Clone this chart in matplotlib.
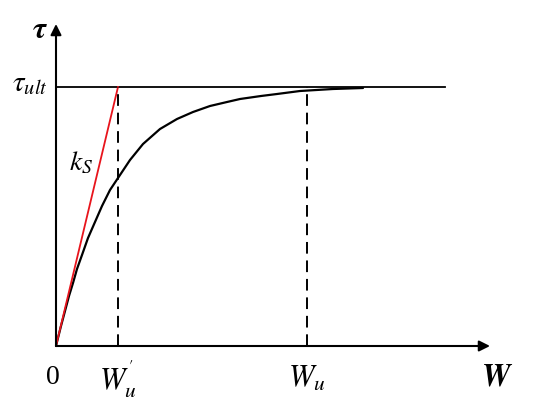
import numpy as np
import matplotlib
matplotlib.use("Agg")
import matplotlib.pyplot as plt

plt.rcParams['mathtext.fontset'] = 'stix'
plt.rcParams['font.family'] = ['Liberation Serif', 'DejaVu Serif']

# values (pixel-like units, origin at axes corner)
tau_ult = 259
w_u_prime = 62
w_u = 251
curve_w = [0, 5, 9, 13, 17, 21, 26, 32, 39, 46, 54, 64, 74, 87, 104, 121,
           137, 154, 171, 184, 205, 221, 244, 277, 307]
curve_tau = [0, 20, 35, 50, 63, 77, 91, 108, 124, 140, 156, 171, 186, 202,
             217, 227, 234, 240, 244, 247, 250, 252, 255, 257, 258]

fig = plt.figure(figsize=(5.5, 4.03), dpi=100)
ax = fig.add_axes([0, 0, 1, 1])
ax.set_xlim(-56, 494)
ax.set_ylim(-57, 346)
ax.axis('off')

# axes with arrows
ax.annotate('', xy=(0, 322), xytext=(0, 0),
            arrowprops=dict(arrowstyle='-|>', lw=1.5, color='black',
                            mutation_scale=16, shrinkA=0, shrinkB=0))
ax.annotate('', xy=(434, 0), xytext=(0, 0),
            arrowprops=dict(arrowstyle='-|>', lw=1.5, color='black',
                            mutation_scale=16, shrinkA=0, shrinkB=0))

# ultimate stress line
ax.plot([0, 389], [tau_ult, tau_ult], color='black', lw=1.3)

# curve
ax.plot(curve_w, curve_tau, color='black', lw=1.6, solid_joinstyle='round',
        solid_capstyle='round')

# initial stiffness
ax.plot([0, w_u_prime], [0, tau_ult], color='#e8141c', lw=1.3)

# dashed verticals
ax.plot([w_u_prime, w_u_prime], [0, tau_ult], color='black', lw=1.4,
        dashes=(6, 3.5))
ax.plot([w_u, w_u], [0, tau_ult], color='black', lw=1.4, dashes=(6, 3.5))

# labels
ax.text(-16, 316, r'$\boldsymbol{\tau}$', fontsize=22, ha='center', va='center')
ax.text(-26, 262, r'$\tau_{ult}$', fontsize=21, ha='center', va='center')
ax.text(25, 183, r'$k_S$', fontsize=20, ha='center', va='center')
ax.text(-3, -32, '0', fontsize=20, ha='center', va='center')
ax.text(w_u_prime, -33, r"$W_u^{'}$", fontsize=22, ha='center', va='center')
ax.text(w_u, -33, r'$W_u$', fontsize=22, ha='center', va='center')
ax.text(441, -32, r'$\boldsymbol{W}$', fontsize=23, ha='center', va='center')

fig.savefig('out.png', dpi=100)
